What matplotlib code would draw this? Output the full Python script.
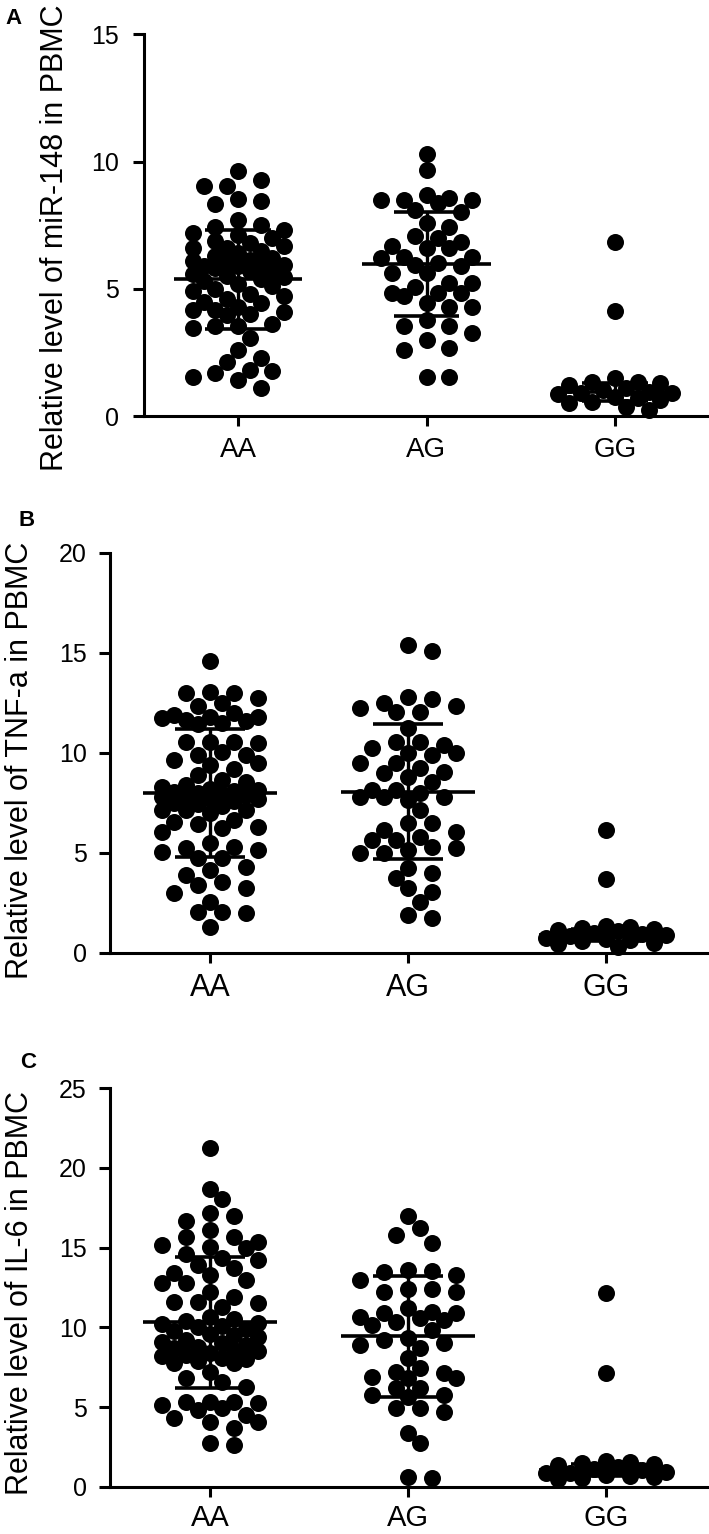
import numpy as np
import matplotlib
matplotlib.use("Agg")
import matplotlib.pyplot as plt

plt.rcParams["font.family"] = ["Liberation Sans", "DejaVu Sans"]

W, H = 709, 1534
GROUPS = ["AA", "AG", "GG"]

# panel A : miR-148
MIR_AA = [9.62, 9.27, 9.03, 9.06, 8.44, 8.35, 8.53, 7.72, 7.52, 7.45, 7.32,
          7.2, 7.1, 7.0, 6.9, 6.8, 6.7, 6.6, 6.6, 6.5, 6.4, 6.3, 6.2, 6.15, 6.1,
          6.0, 5.95, 5.9, 5.88, 5.88, 5.8, 5.75, 5.7, 5.6, 5.5, 5.45, 5.4, 5.3,
          5.2, 5.1, 5.0, 4.9, 4.8, 4.7, 4.6, 4.5, 4.45, 4.3, 4.17, 4.17, 4.1,
          4.0, 3.97, 3.6, 3.52, 3.52, 3.45, 3.06, 2.6, 2.27, 2.14, 1.81, 1.75,
          1.68, 1.55, 1.42, 1.09]
MIR_AG = [10.31, 9.69, 8.5, 8.5, 8.5, 8.7, 8.57, 8.37, 8.11, 8.04, 7.59, 7.45,
          7.06, 6.86, 7.0, 6.6, 6.67, 6.6, 6.2, 5.94, 6.27, 6.27, 5.88, 6.01,
          5.62, 5.22, 5.22, 5.62, 4.83, 4.83, 4.83, 5.09, 4.7, 4.3, 4.3, 4.44,
          3.78, 3.52, 3.52, 3.25, 2.99, 2.66, 2.6, 1.55, 1.55]
MIR_GG = [6.86, 4.11, 1.48, 1.35, 1.35, 1.3, 1.2, 1.09, 1.02, 0.95, 0.9, 0.89,
          0.85, 0.76, 0.7, 0.63, 0.56, 0.5, 0.37, 0.24]
MIR_MEAN = [5.38, 5.98, 0.94]
MIR_SD = [1.95, 2.04, 0.36]

# panel B : TNF-a
TNF_AA = [14.62, 13.0, 13.07, 13.0, 12.75, 12.5, 12.35, 11.82, 11.82, 11.65,
          12.0, 11.73, 11.9, 11.6, 11.5, 11.45, 10.57, 10.57, 10.52, 10.57,
          10.07, 9.9, 9.9, 9.65, 9.48, 9.4, 9.18, 8.9, 8.65, 8.57, 8.4, 8.3,
          8.2, 8.15, 8.1, 8.05, 8.0, 7.95, 7.9, 7.85, 7.8, 7.75, 7.7, 7.6, 7.5,
          7.45, 7.35, 7.15, 7.15, 7.15, 7.0, 6.65, 6.57, 6.45, 6.32, 6.07, 6.23,
          5.32, 5.48, 5.15, 5.23, 5.05, 4.75, 4.75, 4.32, 4.15, 3.9, 3.4, 3.57,
          2.98, 3.23, 2.57, 2.07, 1.98, 2.07, 1.32]
TNF_AG = [15.4, 15.12, 12.23, 12.82, 12.07, 12.52, 12.68, 12.07, 12.35, 11.23,
          10.57, 10.57, 10.4, 10.23, 10.02, 9.9, 9.98, 9.48, 9.48, 9.07, 9.23,
          8.82, 8.98, 8.57, 7.82, 7.82, 8.15, 7.98, 7.65, 8.15, 7.82, 7.15,
          6.48, 6.48, 6.07, 6.15, 5.65, 5.65, 5.82, 5.23, 5.15, 4.98, 5.32,
          4.98, 3.98, 4.23, 3.73, 3.23, 3.07, 2.57, 1.73, 1.9]
TNF_GG = [6.15, 3.68, 1.35, 1.32, 1.25, 1.2, 1.15, 1.1, 1.0, 0.95, 0.9, 0.85,
          0.75, 0.7, 0.65, 0.6, 0.5, 0.45, 0.32]
TNF_MEAN = [8.0, 8.07, 0.9]
TNF_SD = [3.18, 3.36, 0.3]

# panel C : IL-6
IL6_AA = [21.27, 18.7, 18.04, 17.14, 16.97, 16.68, 16.1, 15.16, 15.37, 15.68,
          15.68, 14.95, 15.05, 14.63, 14.32, 13.9, 13.7, 14.2, 13.38, 13.28,
          12.76, 12.96, 12.8, 11.6, 11.6, 11.92, 12.23, 11.3, 11.5, 10.67,
          10.5, 10.4, 10.3, 10.2, 10.1, 10.0, 9.9, 9.8, 9.6, 9.5, 9.4, 9.2,
          9.1, 9.0, 8.9, 8.8, 8.7, 8.6, 8.5, 8.4, 8.3, 8.2, 8.1, 8.0, 7.9, 7.8,
          7.75, 7.2, 6.8, 6.6, 6.28, 5.35, 5.35, 5.35, 5.24, 5.14, 4.93, 4.82,
          4.5, 4.09, 4.3, 4.09, 3.67, 2.63, 2.73]
IL6_AG = [16.97, 16.2, 15.78, 15.3, 12.96, 13.49, 13.59, 13.55, 13.28, 12.38,
          12.23, 12.38, 12.2, 10.67, 10.88, 11.19, 10.88, 10.98, 10.56, 10.15,
          10.35, 10.46, 9.83, 9.31, 9.0, 8.68, 8.89, 9.2, 8.06, 7.12, 6.8, 7.43,
          6.8, 6.91, 7.22, 5.76, 6.18, 5.76, 6.18, 5.66, 4.93, 4.72, 4.93,
          3.36, 2.73, 0.54, 0.65]
IL6_GG = [12.13, 7.16, 1.6, 1.55, 1.5, 1.45, 1.35, 1.25, 1.15, 1.05, 0.95,
          0.9, 0.85, 0.75, 0.7, 0.65, 0.55, 0.5]
IL6_MEAN = [10.33, 9.43, 1.06]
IL6_SD = [4.1, 3.81, 0.38]

PANELS = [
    dict(letter="A", ylabel="Relative level of miR-148 in PBMC",
         data=[MIR_AA, MIR_AG, MIR_GG], mean=MIR_MEAN, sd=MIR_SD,
         ymax=15, yticks=[0, 5, 10, 15], left=144, top=34.5, bottom=416,
         xlim=(-0.5, 2.5), lab_xy=(13, 18), ylab_xy=(55, 238), xfs=20, xpad=7.5,
         ypad=10),
    dict(letter="B", ylabel="Relative level of TNF-a in PBMC",
         data=[TNF_AA, TNF_AG, TNF_GG], mean=TNF_MEAN, sd=TNF_SD,
         ymax=20, yticks=[0, 5, 10, 15, 20], left=110, top=553, bottom=953,
         xlim=(-0.505, 2.52), lab_xy=(27, 520), ylab_xy=(20, 760), xfs=22, xpad=7,
         ypad=8.6),
    dict(letter="C", ylabel="Relative level of IL-6 in PBMC",
         data=[IL6_AA, IL6_AG, IL6_GG], mean=IL6_MEAN, sd=IL6_SD,
         ymax=25, yticks=[0, 5, 10, 15, 20, 25], left=110, top=1088, bottom=1487,
         xlim=(-0.505, 2.52), lab_xy=(28, 1062), ylab_xy=(20, 1293), xfs=21, xpad=5,
         ypad=8.6),
]

DOT_PX = 17


def swarm(vals, ppu_y, step_px, kmax):
    # bounded swarm: candidate offsets on a half-step grid, overlap when full
    vals = np.asarray(vals, float)
    cands = sorted(range(-kmax, kmax + 1), key=lambda k: (abs(k), -k))
    placed = []
    offs = np.zeros(len(vals))
    for i in np.argsort(-vals):
        y = vals[i] * ppu_y
        best, best_d = 0.0, -1.0
        for k in cands:
            x = k * step_px / 2
            dmin = min((np.hypot(x - px, y - py) for px, py in placed), default=1e9)
            if dmin >= DOT_PX * 0.9:
                best = x
                break
            if dmin > best_d:
                best_d, best = dmin, x
        placed.append((best, y))
        offs[i] = best
    return offs


fig = plt.figure(figsize=(W / 100, H / 100), dpi=100)

for p in PANELS:
    rect = [p["left"] / W, 1 - p["bottom"] / H, 1 - p["left"] / W,
            (p["bottom"] - p["top"]) / H]
    ax = fig.add_axes(rect)
    ax.set_xlim(*p["xlim"])
    ax.set_ylim(0, p["ymax"])
    w_px = rect[2] * W
    h_px = rect[3] * H
    ppu_x = w_px / (p["xlim"][1] - p["xlim"][0])
    ppu_y = h_px / p["ymax"]
    step_px = 0.121 * ppu_x

    for i, vals in enumerate(p["data"]):
        offs = swarm(vals, ppu_y, step_px, kmax=5 if i == 2 else 4)
        ax.scatter(i + offs / ppu_x, vals, s=150, color="black", lw=0, zorder=2,
                   clip_on=False)
        m, s = p["mean"][i], p["sd"][i]
        ax.hlines(m, i - 0.34, i + 0.34, color="black", lw=2.6, zorder=3)
        ax.hlines([m - s, m + s], i - 0.175, i + 0.175, color="black", lw=2.6, zorder=3)
        ax.vlines(i, m - s, m + s, color="black", lw=2.4, zorder=3)

    for sp in ("top", "right"):
        ax.spines[sp].set_visible(False)
    for sp in ("left", "bottom"):
        ax.spines[sp].set_linewidth(2.2)
    ax.set_yticks(p["yticks"])
    ax.set_xticks(range(3))
    ax.set_xticklabels(GROUPS)
    ax.tick_params(axis="y", length=8, width=2.2, labelsize=18, pad=p["ypad"])
    ax.tick_params(axis="x", length=7.5, width=2.2, labelsize=p["xfs"], pad=p["xpad"])

    fig.text(p["ylab_xy"][0] / W, 1 - p["ylab_xy"][1] / H, p["ylabel"],
             rotation=90, ha="center", va="center", fontsize=22)
    fig.text(p["lab_xy"][0] / W, 1 - p["lab_xy"][1] / H, p["letter"],
             ha="center", va="center", fontsize=16, fontweight="bold")

fig.savefig("out.png", dpi=100, facecolor="white")
